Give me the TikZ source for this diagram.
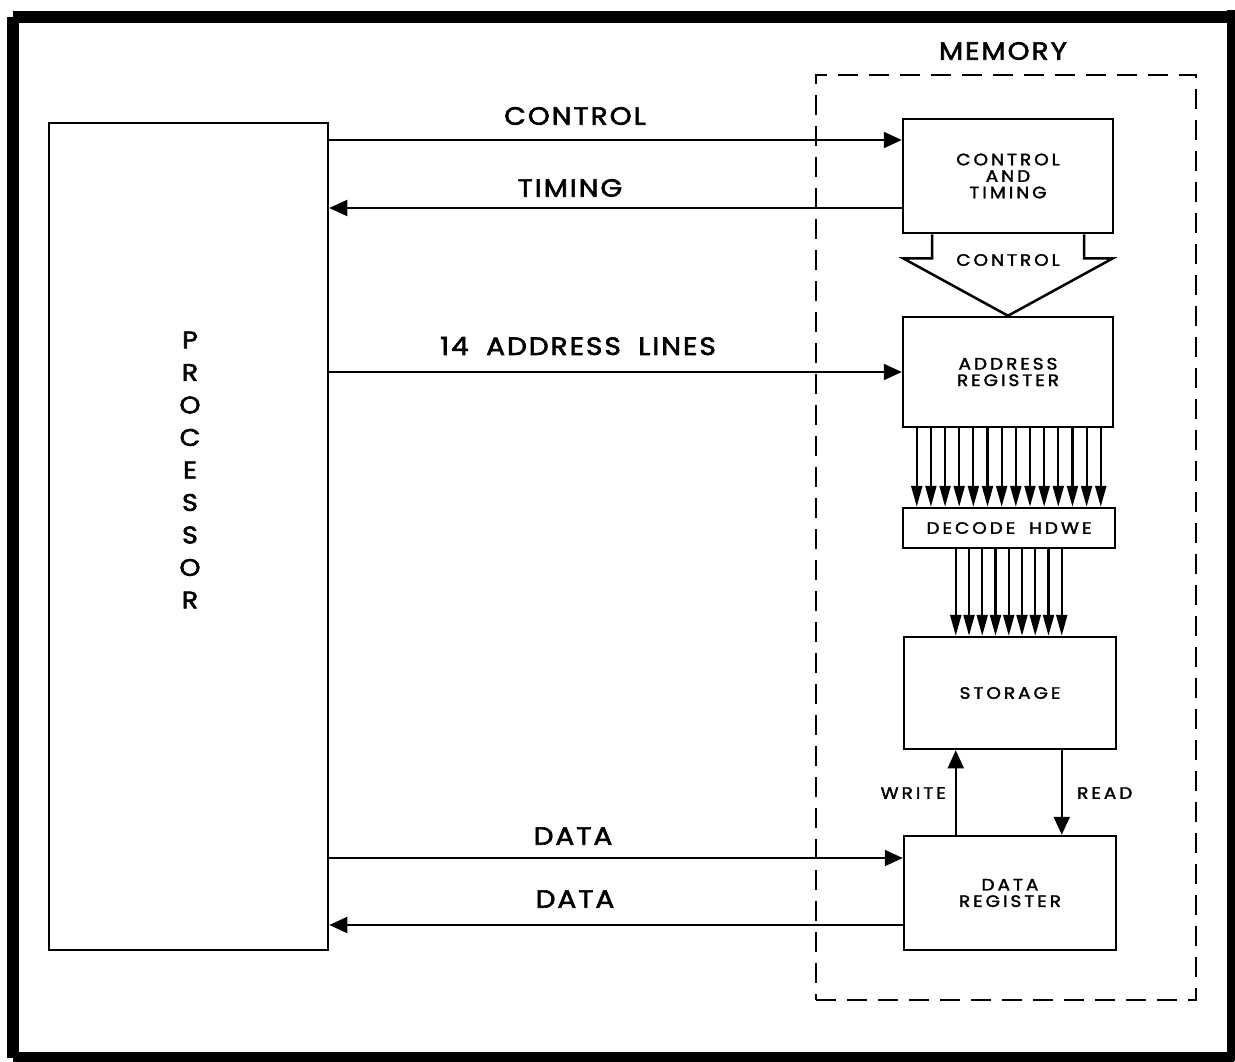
\documentclass[tikz,border=0pt]{standalone}
\usepackage{fontspec}
\setmainfont{Poppins}
\newfontfamily\bigf[LetterSpace=8,FakeBold=2.4,FakeStretch=1.12]{Poppins}
\newfontfamily\smallf[LetterSpace=18,FakeBold=2,FakeStretch=1.12]{Poppins}
\usetikzlibrary{arrows.meta,calc}
\tikzset{
  box/.style={draw, line width=2.5pt, minimum width=210pt, inner sep=0pt, align=center,
    font=\smallf\fontsize{16.5}{16.5}\selectfont},
  arr/.style={line width=2pt, -{Triangle[length=18pt,width=16pt]}},
  sarr/.style={line width=2.2pt, -{Triangle[length=21pt,width=11pt]}},
  biglab/.style={font=\bigf\fontsize{25}{26}\selectfont, inner sep=0pt},
  smalllab/.style={font=\smallf\fontsize{16.5}{16}\selectfont, inner sep=0pt},
}
\begin{document}
\begin{tikzpicture}[x=1pt,y=-1pt]
\useasboundingbox (0,0) rectangle (1235,1061);
% outer frame
\draw[line width=12pt] (13,16.5) -- (1234,16.5) (13,1058) -- (1234,1058) (13,16.5) -- (13,1058) (1233,10) -- (1233,1061);
% memory dashed box
\node[draw, dashed, dash pattern=on 20pt off 11pt, line width=2.5pt, minimum width=380pt, minimum height=925pt, inner sep=0pt] (mem) at (1006,537.5) {};
\node[biglab] (memlab) at (1003,51) {MEMORY};
% processor
\node[draw, line width=2.5pt, minimum width=279pt, minimum height=827pt, inner sep=0pt] (proc) at (188.5,536.5) {};
\node[font=\bigf\fontsize{24}{32.5}\selectfont, align=center, inner sep=0pt] (proclab) at (190,470) {P\\R\\O\\C\\E\\S\\S\\O\\R};
% memory internals
\node[box, minimum height=114pt] (ct) at (1008,176) {CONTROL\\AND\\TIMING};
\node[box, minimum height=110pt] (ar) at (1008,372) {ADDRESS\\REGISTER};
\node[box, minimum width=212pt, minimum height=40pt] (dec) at (1009,528) {DECODE\hspace{6pt} HDWE};
\node[box, minimum width=212pt, minimum height=112pt] (st) at (1010,693) {STORAGE};
\node[box, minimum width=212pt, minimum height=114pt] (dr) at (1010,893) {DATA\\REGISTER};
% fat control arrow
\draw[line width=2.5pt, line join=miter] ($(ct.south)+(-76,0)$) -- ++(0,24) -- ($(ct.south)+(-105,24)$) -- (ar.north) -- ($(ct.south)+(105,24)$) -- ($(ct.south)+(76,24)$) -- ($(ct.south)+(76,0)$);
\node[smalllab] (fatlab) at (1008,260) {CONTROL};
% processor <-> memory lines
\coordinate (c1) at ([yshift=36pt]ct.west);
\coordinate (t1) at ([yshift=-32pt]ct.west);
\coordinate (d1) at ([yshift=35pt]dr.west);
\coordinate (d2) at ([yshift=-32pt]dr.west);
\draw[arr] (c1 -| proc.east) -- (c1);
\draw[arr] (t1) -- (t1 -| proc.east);
\draw[arr] (ar.west -| proc.east) -- (ar.west);
\draw[arr] (d1 -| proc.east) -- (d1);
\draw[arr] (d2) -- (d2 -| proc.east);
\node[biglab] (l1) at (575,116) {CONTROL};
\node[biglab] (l2) at (570,188) {TIMING};
\node[biglab] (l3) at (578,346) {14\hspace{8pt} ADDRESS\hspace{8pt} LINES};
\node[biglab] (l4) at (573,836) {DATA};
\node[biglab] (l5) at (575,899) {DATA};
% address bus
\foreach \i in {0,...,13} {
  \coordinate (a\i) at ($(ar.south west)+(15+\i*14.154,0)$);
  \draw[sarr] (a\i) -- (a\i |- dec.north);
}
% decode to storage
\foreach \i in {0,...,8} {
  \coordinate (b\i) at ($(dec.south west)+(54+\i*13.25,0)$);
  \draw[sarr] (b\i) -- (b\i |- st.north);
}
% write / read
\coordinate (w1) at ($(dr.north west)+(53,0)$);
\coordinate (r1) at ($(st.south west)+(159,0)$);
\draw[arr] (w1) -- (w1 |- st.south);
\draw[arr] (r1) -- (r1 |- dr.north);
\node[smalllab, anchor=east] (wlab) at (946,793) {WRITE};
\node[smalllab, anchor=west] (rlab) at (1077,793) {READ};
\end{tikzpicture}
\end{document}
